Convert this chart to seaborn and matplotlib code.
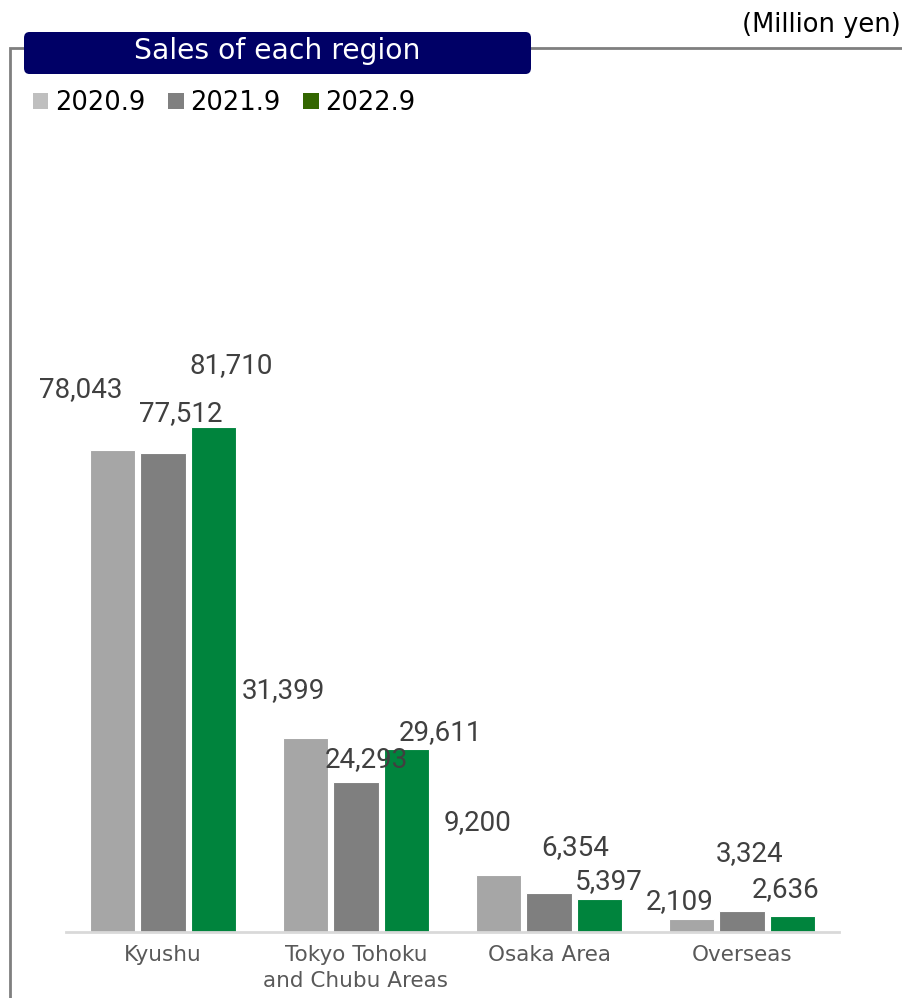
import pandas as pd
import numpy as np
import matplotlib.pyplot as plt
import seaborn as sns
from matplotlib.patches import FancyBboxPatch, Rectangle, Patch

# data (million yen)
regions = ['Kyushu', 'Tokyo Tohoku\nand Chubu Areas', 'Osaka Area', 'Overseas']
years = ['2020.9', '2021.9', '2022.9']
sales_2020 = [78043, 31399, 9200, 2109]
sales_2021 = [77512, 24293, 6354, 3324]
sales_2022 = [81710, 29611, 5397, 2636]

bar_colors = {'2020.9': '#A6A6A6', '2021.9': '#7F7F7F', '2022.9': '#00843D'}
legend_colors = ['#BFBFBF', '#808080', '#336600']

# label offsets (pixels) from the top-centre of each bar, like the staggered excel labels
label_offsets = {
    '2020.9': [(-32, 60), (-22, 47), (-21, 53), (-12, 17)],
    '2021.9': [(18, 39), (10, 22), (26, 45), (8, 58)],
    '2022.9': [(18, 61), (34, 16), (10, 17), (-7, 26)],
}

df = pd.DataFrame({
    'region': regions * 3,
    'year': [y for y in years for _ in regions],
    'sales': sales_2020 + sales_2021 + sales_2022,
})

sns.set_style('white')
plt.rcParams['font.family'] = ['DejaVu Sans']

fig = plt.figure(figsize=(9.03, 9.98), dpi=100)
ax = fig.add_axes([0.0736, 0.0661, 0.855, 0.8237])

sns.barplot(data=df, x='region', y='sales', hue='year', palette=bar_colors,
            saturation=1, width=0.78, gap=0.1, edgecolor='white', linewidth=0.8,
            legend=False, ax=ax)

ax.set_ylim(0, 133000)
ax.set_xlim(-0.5, 3.5)
ax.set_xlabel('')
ax.set_ylabel('')
ax.set_yticks([])
for s in ['top', 'right', 'left']:
    ax.spines[s].set_visible(False)
ax.spines['bottom'].set_color('#D9D9D9')
ax.spines['bottom'].set_linewidth(2)
ax.tick_params(axis='x', length=0, pad=9, labelsize=15.5, labelcolor='#595959')
for t in ax.get_xticklabels():
    t.set_linespacing(1.4)

# value labels
for year, cont in zip(years, ax.containers):
    for bar, (dx, dy) in zip(cont, label_offsets[year]):
        v = bar.get_height()
        ax.annotate(f'{int(v):,}', (bar.get_x() + bar.get_width() / 2, v),
                    xytext=(dx * 0.72, dy * 0.72), textcoords='offset points',
                    ha='center', va='center', fontsize=20, color='#404040',
                    family=['Roboto', 'DejaVu Sans'])

# outer frame
frame = Rectangle((10 / 903, -0.01), 1.0, 1 - 48 / 998 + 0.01, transform=fig.transFigure,
                  fill=False, edgecolor='#7F7F7F', linewidth=2, clip_on=False)
fig.add_artist(frame)

# title box
box = FancyBboxPatch((24 / 903, 1 - 74 / 998), (531 - 24) / 903, 42 / 998,
                     boxstyle='round,pad=0,rounding_size=0.006',
                     transform=fig.transFigure, facecolor='#000066', edgecolor='none')
fig.add_artist(box)
fig.text(277 / 903, 1 - 51 / 998, 'Sales of each region', color='white',
         fontsize=20.3, ha='center', va='center')

fig.text(0.997, 1 - 25 / 998, '(Million yen)', ha='right', va='center',
         fontsize=18.5, color='black')

# legend
handles = [Patch(facecolor=c, edgecolor='none') for c in legend_colors]
fig.legend(handles, years, loc='center left', bbox_to_anchor=(33 / 903, 1 - 103 / 998),
           ncol=3, frameon=False, fontsize=18.5, handlelength=0.6, handleheight=0.6,
           handletextpad=0.25, columnspacing=0.9, borderaxespad=0, borderpad=0,
           labelcolor='black')

fig.savefig('out.png', dpi=100)
